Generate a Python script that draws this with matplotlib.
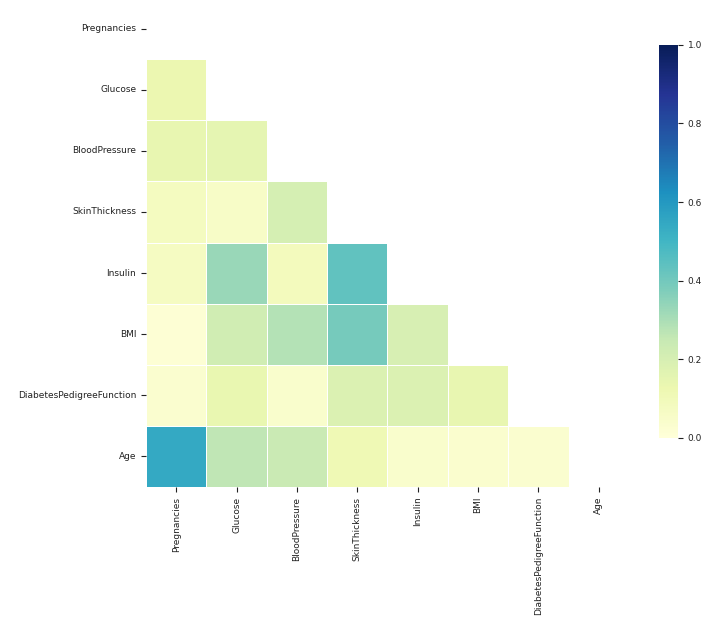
import numpy as np
import pandas as pd
import matplotlib
matplotlib.use("Agg")
import matplotlib.pyplot as plt
import seaborn as sns

# Pima diabetes features, absolute correlations
features = ["Pregnancies", "Glucose", "BloodPressure", "SkinThickness",
            "Insulin", "BMI", "DiabetesPedigreeFunction", "Age"]

# lower triangle, row by row (row i vs columns 0..i-1)
row_glucose = [0.129]
row_bp = [0.141, 0.153]
row_skin = [0.082, 0.057, 0.207]
row_insulin = [0.074, 0.331, 0.089, 0.437]
row_bmi = [0.018, 0.221, 0.282, 0.393, 0.198]
row_dpf = [0.034, 0.137, 0.041, 0.184, 0.185, 0.141]
row_age = [0.544, 0.264, 0.240, 0.114, 0.042, 0.036, 0.034]

rows = [[], row_glucose, row_bp, row_skin, row_insulin, row_bmi, row_dpf, row_age]
n = len(features)
corr = np.eye(n)
for i, r in enumerate(rows):
    for j, v in enumerate(r):
        corr[i, j] = v
        corr[j, i] = v
corr = pd.DataFrame(corr, index=features, columns=features)

mask = np.triu(np.ones_like(corr, dtype=bool))

fig = plt.figure(figsize=(7.17, 6.30), dpi=100)
ax = fig.add_axes([0.2036, 0.227, 0.6736, 0.776])
cax = fig.add_axes([0.919, 0.3048, 0.0265, 0.624])

sns.heatmap(corr, mask=mask, cmap="YlGnBu", vmin=0, vmax=1,
            linewidths=0.5, linecolor="white", ax=ax, cbar_ax=cax)

ax.tick_params(labelsize=6.5, length=3.5, width=0.8, colors="#222222")
ax.set_xticklabels(features, rotation=90)
ax.set_yticklabels(features, rotation=0)
cax.tick_params(labelsize=6.5, length=3.5, width=0.8, colors="#222222")
cax.set_yticks([0, 0.2, 0.4, 0.6, 0.8, 1.0])
for s in cax.spines.values():
    s.set_visible(False)

fig.savefig("out.png", dpi=100)
